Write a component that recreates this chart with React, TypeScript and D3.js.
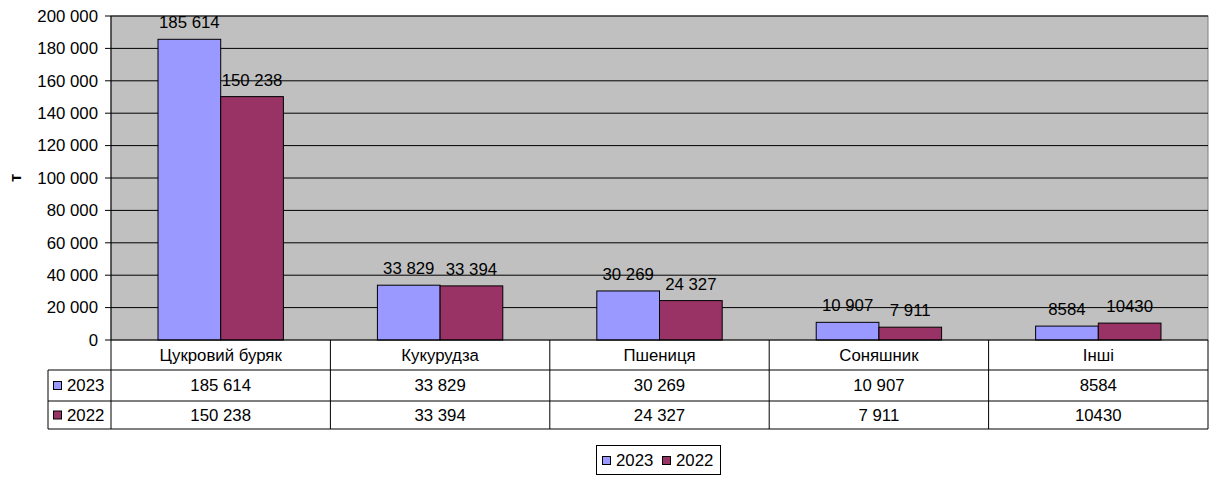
import React from "react";
import * as d3 from "d3";

const categories = ["Цукровий буряк", "Кукурудза", "Пшениця", "Соняшник", "Інші"];
const seriesNames = ["2023", "2022"];
const values2023 = [185614, 33829, 30269, 10907, 8584];
const values2022 = [150238, 33394, 24327, 7911, 10430];
const labels2023 = ["185 614", "33 829", "30 269", "10 907", "8584"];
const labels2022 = ["150 238", "33 394", "24 327", "7 911", "10430"];
const yTicks = [0, 20000, 40000, 60000, 80000, 100000, 120000, 140000, 160000, 180000, 200000];
const colors = ["#9999FF", "#993366"];

const W = 1215;
const H = 477;
const plot = { left: 111, right: 1208, top: 16, bottom: 340 };
const rowBottoms = [370, 401, 429];
const tableLeft = 48;
const font = "'Liberation Sans', Arial, sans-serif";
const fs = 16.8;
const fmt = (v: number) => (v === 0 ? "0" : d3.format(",")(v).replace(/,/g, " "));

export default function App() {
  const x0 = d3.scaleBand().domain(categories).range([plot.left, plot.right]).paddingInner(0).paddingOuter(0);
  const bw = x0.bandwidth() / 3.5;
  const y = d3.scaleLinear().domain([0, 200000]).range([plot.bottom, plot.top]);
  const series = [
    { name: seriesNames[0], values: values2023, labels: labels2023, color: colors[0] },
    { name: seriesNames[1], values: values2022, labels: labels2022, color: colors[1] },
  ];
  const rowMid = (i: number) => ((i === 0 ? plot.bottom : rowBottoms[i - 1]) + rowBottoms[i]) / 2;

  return (
    <svg width={W} height={H} style={{ position: "absolute", left: 0, top: 0 }} fontFamily={font}>
      <rect width={W} height={H} fill="#fff" />
      <rect x={plot.left} y={plot.top} width={plot.right - plot.left} height={plot.bottom - plot.top} fill="#C0C0C0" stroke="#808080" />
      {yTicks.map((t) => (
        <g key={t}>
          {t > 0 && <line x1={plot.left} x2={plot.right} y1={y(t)} y2={y(t)} stroke="#000" />}
          <line x1={plot.left - 6} x2={plot.left} y1={y(t)} y2={y(t)} stroke="#000" />
          <text x={98} y={y(t)} dy="0.35em" textAnchor="end" fontSize={fs}>
            {fmt(t)}
          </text>
        </g>
      ))}
      <line x1={plot.left} x2={plot.left} y1={plot.top} y2={plot.bottom} stroke="#000" />
      <text transform={`translate(21,${(plot.top + plot.bottom) / 2}) rotate(-90)`} textAnchor="middle" fontSize={fs} fontWeight="bold">
        т
      </text>
      {categories.map((c, ci) =>
        series.map((s, si) => {
          const bx = (x0(c) as number) + 0.75 * bw + si * bw;
          const by = y(s.values[ci]);
          return (
            <g key={c + s.name}>
              <rect x={bx} y={by} width={bw} height={plot.bottom - by} fill={s.color} stroke="#000" />
              <text x={bx + bw / 2} y={by - 11} textAnchor="middle" fontSize={fs}>
                {s.labels[ci]}
              </text>
            </g>
          );
        })
      )}
      <line x1={plot.left} x2={plot.right} y1={plot.bottom} y2={plot.bottom} stroke="#000" />
      {/* data table */}
      <g stroke="#000" fill="none">
        {rowBottoms.map((rb) => (
          <line key={rb} x1={tableLeft} x2={plot.right} y1={rb} y2={rb} />
        ))}
        <line x1={tableLeft} x2={tableLeft} y1={rowBottoms[0]} y2={rowBottoms[2]} />
        {categories.map((c) => (
          <line key={c} x1={x0(c) as number} x2={x0(c) as number} y1={plot.bottom} y2={rowBottoms[2]} />
        ))}
        <line x1={plot.right} x2={plot.right} y1={plot.bottom} y2={rowBottoms[2]} />
      </g>
      {categories.map((c, ci) => (
        <g key={c} fontSize={fs} textAnchor="middle">
          <text x={(x0(c) as number) + x0.bandwidth() / 2} y={rowMid(0)} dy="0.35em">
            {c}
          </text>
          {series.map((s, si) => (
            <text key={s.name} x={(x0(c) as number) + x0.bandwidth() / 2} y={rowMid(si + 1)} dy="0.35em">
              {s.labels[ci]}
            </text>
          ))}
        </g>
      ))}
      {series.map((s, si) => (
        <g key={s.name}>
          <rect x={53.5} y={rowMid(si + 1) - 4} width={8} height={8} fill={s.color} stroke="#000" />
          <text x={67} y={rowMid(si + 1)} dy="0.35em" fontSize={fs}>
            {s.name}
          </text>
        </g>
      ))}
      {/* legend */}
      <rect x={596.5} y={445.5} width={124} height={29} fill="#fff" stroke="#000" />
      {series.map((s, si) => (
        <g key={s.name}>
          <rect x={602.5 + si * 60} y={456.5} width={8} height={8} fill={s.color} stroke="#000" />
          <text x={616 + si * 60} y={460.5} dy="0.35em" fontSize={fs}>
            {s.name}
          </text>
        </g>
      ))}
    </svg>
  );
}
